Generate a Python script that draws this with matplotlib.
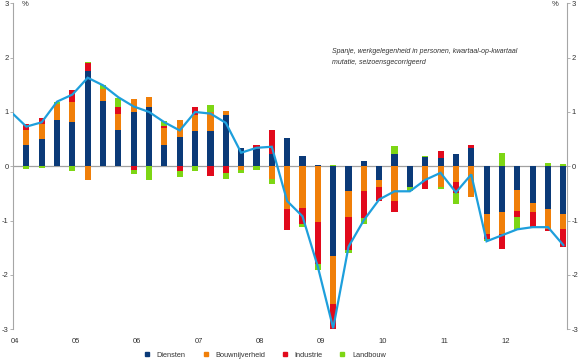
import matplotlib
matplotlib.use('Agg')
import matplotlib.pyplot as plt
from matplotlib.lines import Line2D
import numpy as np

plt.rcParams['font.family'] = ['Liberation Sans', 'DejaVu Sans']
plt.rcParams['axes.unicode_minus'] = False

# Quarters 2003Q4 .. 2012Q4, contribution per sector (percentage points)
quarters = ['03Q4'] + ['%02dQ%d' % (y, q) for y in range(4, 13) for q in range(1, 5)]
diensten = [0.00, 0.39, 0.50, 0.86, 0.81, 1.76, 1.20, 0.67, 1.00, 1.10, 0.39, 0.54, 0.65,
            0.65, 0.94, 0.34, 0.31, 0.23, 0.52, 0.19, 0.02, -1.65, -0.46, 0.09, -0.26,
            0.22, -0.38, 0.17, 0.16, 0.22, 0.34, -0.88, -0.84, -0.44, -0.67, -0.78, -0.87]
bouw = [0.00, 0.27, 0.27, 0.28, 0.37, -0.26, 0.22, 0.30, 0.23, 0.17, 0.31, 0.31, 0.29,
        0.35, 0.08, -0.07, 0.00, -0.24, -0.79, -0.77, -1.03, -0.89, -0.48, -0.46, -0.13,
        -0.63, 0.00, -0.25, -0.39, -0.29, -0.56, -0.37, -0.41, -0.38, -0.17, -0.37, -0.28]
industrie = [0.00, 0.12, 0.11, 0.00, 0.22, 0.15, 0.00, 0.13, -0.07, 0.00, 0.05, -0.09, 0.16,
             -0.18, -0.12, 0.00, 0.09, 0.43, -0.39, -0.30, -0.77, -0.46, -0.60, -0.50, -0.24,
             -0.21, 0.00, -0.17, 0.12, -0.20, 0.06, -0.09, -0.28, -0.12, -0.28, -0.04, -0.33]
landbouw = [0.00, -0.05, -0.04, 0.05, -0.09, 0.01, 0.07, 0.16, -0.08, -0.26, 0.08, -0.11, -0.09,
            0.12, -0.12, -0.05, -0.07, -0.08, 0.00, -0.05, -0.11, 0.02, -0.05, -0.11, 0.00,
            0.15, -0.07, 0.02, -0.02, -0.21, 0.00, -0.04, 0.24, -0.24, 0.00, 0.06, 0.04]
totaal = [1.00, 0.73, 0.81, 1.19, 1.32, 1.63, 1.49, 1.27, 1.10, 1.00, 0.81, 0.66, 1.00,
          0.97, 0.80, 0.25, 0.34, 0.36, -0.64, -0.92, -1.85, -2.98, -1.48, -0.99, -0.61,
          -0.46, -0.46, -0.25, -0.12, -0.48, -0.15, -1.38, -1.27, -1.16, -1.12, -1.12, -1.45]
year_labels = ['04', '05', '06', '07', '08', '09', '10', '11', '12']

series = [('Diensten', diensten, '#0b3a78'),
          ('Bouwnijverheid', bouw, '#f07f09'),
          ('Industrie', industrie, '#e10a1c'),
          ('Landbouw', landbouw, '#7dd614')]

fig = plt.figure(figsize=(5.8, 3.6), dpi=100)
ax = fig.add_axes([13 / 580, 1 - 329.3 / 360, (567.3 - 13) / 580, (329.3 - 3.3) / 360])

x = np.arange(len(quarters))
pos_base = np.zeros(len(x))
neg_base = np.zeros(len(x))
for name, vals, col in series:
    v = np.array(vals)
    bottom = np.where(v >= 0, pos_base, neg_base)
    ax.bar(x, v, 0.4, bottom=bottom, color=col, edgecolor='none', zorder=2)
    pos_base += np.clip(v, 0, None)
    neg_base += np.clip(v, None, 0)

ax.plot(x, totaal, color='#1d9fdc', lw=1.6, zorder=3, solid_joinstyle='miter')
ax.axhline(0, color='#a0a0a0', lw=0.9, zorder=1)

ax.set_xlim(0.13, 36.26)
ax.set_ylim(-3, 3)
ax.set_yticks(range(-3, 4))

ax.set_xticks(np.arange(len(year_labels)) * 4 + 0.5)
ax.set_xticklabels(year_labels, ha='right')
ax.tick_params(axis='x', length=0, pad=6, labelsize=5.5, labelcolor='#333333')
ax.tick_params(axis='y', length=2.2, width=0.6, color='#a6a6a6', labelsize=5.5,
               labelcolor='#333333', pad=0.8, left=True, right=True,
               labelleft=True, labelright=True)

for s in ['top', 'bottom']:
    ax.spines[s].set_visible(False)
for s in ['left', 'right']:
    ax.spines[s].set_color('#a6a6a6')
    ax.spines[s].set_linewidth(0.8)

fig.text(22 / 580, 1 - 5 / 360, '%', fontsize=5.5, color='#333333', va='center')
fig.text(558 / 580, 1 - 5 / 360, '%', fontsize=5.5, color='#333333', va='center', ha='right')

fig.text(332 / 580, 1 - 57 / 360,
         'Spanje, werkgelegenheid in personen, kwartaal-op-kwartaal\nmutatie, seizoensgecorrigeerd',
         fontsize=5.05, style='italic', color='#333333', va='center', linespacing=1.75)

handles = [Line2D([], [], marker='s', ls='none', color=c, markersize=3.5) for _, _, c in series]
fig.legend(handles, [n for n, _, _ in series], loc='center', ncol=4,
           bbox_to_anchor=(265 / 580, 1 - 355 / 360), frameon=False, fontsize=5.3,
           handlelength=0.8, handletextpad=0.9, columnspacing=2.3, labelcolor='#333333')

fig.savefig('out.png', dpi=100)
